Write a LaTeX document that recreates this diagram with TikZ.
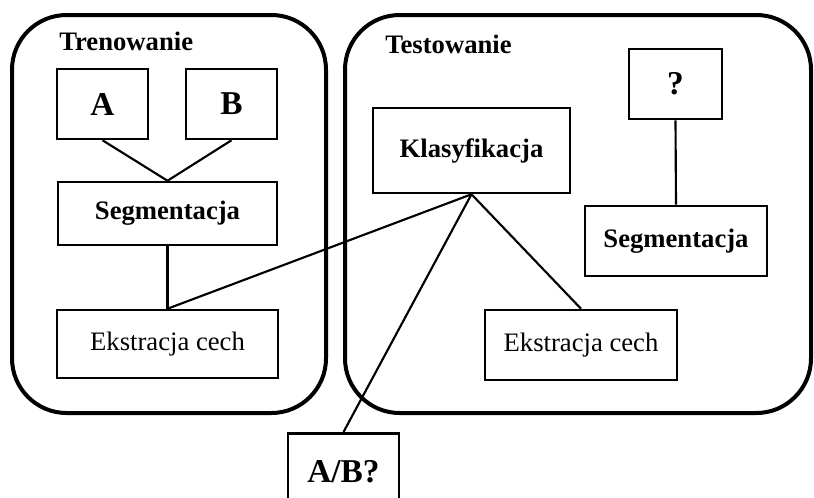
\documentclass[tikz,border=0pt]{standalone}
\usepackage{fontspec}
\setmainfont{Liberation Serif}
\begin{document}
\begin{tikzpicture}[x=0.75pt,y=-0.75pt,
  panel/.style={draw=black,line width=3pt,rounded corners=41pt},
  box/.style={draw=black,line width=1.9pt,rectangle,inner sep=0pt,fill=white,
    font=\bfseries\fontsize{20}{24}\selectfont},
  bigbox/.style={box,font=\bfseries\fontsize{25}{30}\selectfont},
  plainbox/.style={box,font=\fontsize{20}{24}\selectfont},
  title/.style={anchor=base west,inner sep=0pt,font=\bfseries\fontsize{20}{24}\selectfont},
  link/.style={draw=black,line width=1.6pt}]
\useasboundingbox (0,0) rectangle (814,497);
\clip (0,0) rectangle (814,497);

% the two phases
\draw[panel] (12,15) rectangle (326,413);
\draw[panel] (345,15) rectangle (811,413);
\node[title] (tren) at (59,50) {Trenowanie};
\node[title] (test) at (385,53) {Testowanie};

% training phase
\node[bigbox,minimum width=91*0.75pt,minimum height=70*0.75pt] (A) at (102.5,104) {A};
\node[bigbox,minimum width=91*0.75pt,minimum height=70*0.75pt] (B) at (231.5,104) {B};
\node[box,minimum width=219*0.75pt,minimum height=63*0.75pt] (segL) at (167.5,213.5) {Segmentacja};
\node[plainbox,minimum width=221*0.75pt,minimum height=68*0.75pt] (ekL) at (167.5,344) {Ekstracja cech};

% testing phase
\node[box,minimum width=197*0.75pt,minimum height=85*0.75pt] (klas) at (471.5,150.5) {Klasyfikacja};
\node[bigbox,minimum width=93*0.75pt,minimum height=70*0.75pt] (q) at (675.5,84) {?};
\node[box,minimum width=182*0.75pt,minimum height=70*0.75pt] (segR) at (676,241) {Segmentacja};
\node[plainbox,minimum width=192*0.75pt,minimum height=70*0.75pt] (ekR) at (581,345) {Ekstracja cech};

% result
\node[bigbox,anchor=north,minimum width=111*0.75pt,minimum height=76*0.75pt] (ab) at (343.5,432) {A/B?};

% connections
\draw[link] (A.south) -- (segL.north);
\draw[link] (B.south) -- (segL.north);
\draw[link] (segL.south) -- (ekL.north);
\draw[link] (klas.south) -- (ekL.north);
\draw[link] (klas.south) -- (ekR.north);
\draw[link] (klas.south) -- (ab.north);
\draw[link] (q.south) -- (segR.north);
\end{tikzpicture}
\end{document}
